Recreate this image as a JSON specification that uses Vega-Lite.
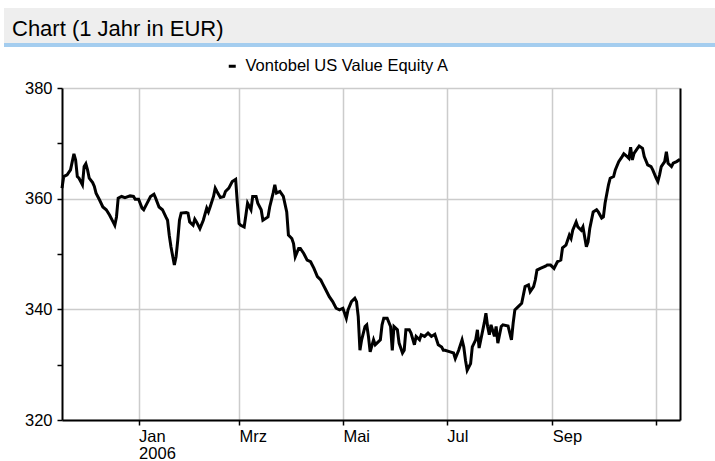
{
  "$schema": "https://vega.github.io/schema/vega-lite/v6.json",
  "padding": {"left": 4, "top": 8, "right": 0, "bottom": 0},
  "background": "white",
  "config": {"font": "Liberation Sans", "view": {"stroke": null}},
  "datasets": {
    "fund": [
      {"d":"2005-11-17","v":361.9},{"d":"2005-11-18","v":364.0},{"d":"2005-11-20","v":364.3},{"d":"2005-11-22","v":365.2},{"d":"2005-11-24","v":368.1},{"d":"2005-11-25","v":367.0},{"d":"2005-11-26","v":364.0},{"d":"2005-11-27","v":363.7},{"d":"2005-11-29","v":362.5},{"d":"2005-11-30","v":365.8},
      {"d":"2005-12-01","v":366.3},{"d":"2005-12-02","v":365.2},{"d":"2005-12-03","v":363.7},{"d":"2005-12-05","v":362.9},{"d":"2005-12-06","v":362.2},{"d":"2005-12-07","v":361.0},{"d":"2005-12-09","v":359.8},{"d":"2005-12-11","v":358.5},{"d":"2005-12-13","v":358.0},{"d":"2005-12-15","v":357.0},{"d":"2005-12-17","v":355.8},{"d":"2005-12-18","v":355.2},{"d":"2005-12-19","v":356.7},{"d":"2005-12-20","v":360.1},{"d":"2005-12-22","v":360.4},{"d":"2005-12-24","v":360.2},{"d":"2005-12-27","v":360.5},{"d":"2005-12-29","v":360.4},{"d":"2005-12-30","v":359.9},
      {"d":"2006-01-01","v":359.9},{"d":"2006-01-03","v":358.3},{"d":"2006-01-04","v":358.0},{"d":"2006-01-06","v":359.2},{"d":"2006-01-08","v":360.4},{"d":"2006-01-10","v":360.8},{"d":"2006-01-11","v":360.1},{"d":"2006-01-13","v":358.5},{"d":"2006-01-15","v":358.0},{"d":"2006-01-17","v":356.7},{"d":"2006-01-18","v":356.1},{"d":"2006-01-19","v":353.4},{"d":"2006-01-20","v":351.3},{"d":"2006-01-22","v":348.0},{"d":"2006-01-23","v":349.5},{"d":"2006-01-24","v":352.5},{"d":"2006-01-25","v":356.1},{"d":"2006-01-26","v":357.4},{"d":"2006-01-29","v":357.5},{"d":"2006-01-30","v":357.4},{"d":"2006-01-31","v":355.8},
      {"d":"2006-02-02","v":355.2},{"d":"2006-02-03","v":356.3},{"d":"2006-02-04","v":355.8},{"d":"2006-02-06","v":354.6},{"d":"2006-02-08","v":356.1},{"d":"2006-02-10","v":358.3},{"d":"2006-02-11","v":357.6},{"d":"2006-02-12","v":358.5},{"d":"2006-02-14","v":360.4},{"d":"2006-02-15","v":361.9},{"d":"2006-02-16","v":361.3},{"d":"2006-02-18","v":360.2},{"d":"2006-02-20","v":360.4},{"d":"2006-02-21","v":361.3},{"d":"2006-02-23","v":361.9},{"d":"2006-02-25","v":363.1},{"d":"2006-02-27","v":363.5},{"d":"2006-02-28","v":359.2},
      {"d":"2006-03-01","v":355.5},{"d":"2006-03-02","v":355.2},{"d":"2006-03-04","v":354.9},{"d":"2006-03-05","v":357.0},{"d":"2006-03-06","v":359.2},{"d":"2006-03-08","v":358.0},{"d":"2006-03-09","v":360.4},{"d":"2006-03-11","v":360.4},{"d":"2006-03-12","v":359.2},{"d":"2006-03-14","v":358.0},{"d":"2006-03-15","v":356.1},{"d":"2006-03-18","v":356.7},{"d":"2006-03-19","v":358.5},{"d":"2006-03-21","v":361.0},{"d":"2006-03-22","v":362.5},{"d":"2006-03-23","v":361.0},{"d":"2006-03-25","v":361.3},{"d":"2006-03-27","v":360.4},{"d":"2006-03-29","v":357.6},{"d":"2006-03-30","v":353.4},
      {"d":"2006-04-01","v":352.8},{"d":"2006-04-02","v":351.9},{"d":"2006-04-03","v":349.5},{"d":"2006-04-05","v":351.0},{"d":"2006-04-06","v":351.0},{"d":"2006-04-08","v":350.1},{"d":"2006-04-10","v":348.9},{"d":"2006-04-12","v":348.6},{"d":"2006-04-14","v":347.4},{"d":"2006-04-16","v":345.9},{"d":"2006-04-18","v":345.3},{"d":"2006-04-19","v":344.7},{"d":"2006-04-21","v":343.5},{"d":"2006-04-23","v":342.3},{"d":"2006-04-25","v":341.4},{"d":"2006-04-27","v":340.2},{"d":"2006-04-29","v":339.9},
      {"d":"2006-05-01","v":340.2},{"d":"2006-05-03","v":338.4},{"d":"2006-05-04","v":339.9},{"d":"2006-05-06","v":341.4},{"d":"2006-05-08","v":342.0},{"d":"2006-05-09","v":341.4},{"d":"2006-05-10","v":338.7},{"d":"2006-05-11","v":332.6},{"d":"2006-05-12","v":334.5},{"d":"2006-05-14","v":336.9},{"d":"2006-05-15","v":337.2},{"d":"2006-05-16","v":335.1},{"d":"2006-05-17","v":332.3},{"d":"2006-05-19","v":334.5},{"d":"2006-05-20","v":333.6},{"d":"2006-05-21","v":333.9},{"d":"2006-05-23","v":334.5},{"d":"2006-05-24","v":337.2},{"d":"2006-05-25","v":338.4},{"d":"2006-05-27","v":338.4},{"d":"2006-05-29","v":336.9},{"d":"2006-05-30","v":332.6},{"d":"2006-05-31","v":336.9},
      {"d":"2006-06-02","v":336.3},{"d":"2006-06-03","v":333.9},{"d":"2006-06-05","v":332.1},{"d":"2006-06-06","v":332.6},{"d":"2006-06-07","v":336.3},{"d":"2006-06-09","v":336.3},{"d":"2006-06-10","v":335.7},{"d":"2006-06-12","v":333.6},{"d":"2006-06-13","v":335.1},{"d":"2006-06-15","v":334.5},{"d":"2006-06-16","v":335.4},{"d":"2006-06-18","v":335.1},{"d":"2006-06-20","v":335.7},{"d":"2006-06-22","v":335.1},{"d":"2006-06-24","v":335.5},{"d":"2006-06-26","v":333.6},{"d":"2006-06-28","v":333.2},{"d":"2006-06-29","v":332.6},{"d":"2006-06-30","v":332.6},
      {"d":"2006-07-03","v":332.3},{"d":"2006-07-05","v":332.1},{"d":"2006-07-06","v":331.1},{"d":"2006-07-08","v":332.6},{"d":"2006-07-10","v":334.5},{"d":"2006-07-11","v":333.2},{"d":"2006-07-12","v":330.8},{"d":"2006-07-13","v":329.0},{"d":"2006-07-15","v":330.2},{"d":"2006-07-16","v":333.2},{"d":"2006-07-18","v":334.5},{"d":"2006-07-19","v":336.3},{"d":"2006-07-20","v":333.0},{"d":"2006-07-21","v":334.5},{"d":"2006-07-23","v":337.5},{"d":"2006-07-24","v":339.3},{"d":"2006-07-25","v":336.9},{"d":"2006-07-26","v":335.4},{"d":"2006-07-27","v":337.2},{"d":"2006-07-29","v":335.1},{"d":"2006-07-30","v":336.9},{"d":"2006-07-31","v":333.9},
      {"d":"2006-08-02","v":336.9},{"d":"2006-08-03","v":337.2},{"d":"2006-08-06","v":337.0},{"d":"2006-08-08","v":334.5},{"d":"2006-08-09","v":337.5},{"d":"2006-08-10","v":339.9},{"d":"2006-08-12","v":340.5},{"d":"2006-08-14","v":341.1},{"d":"2006-08-15","v":342.6},{"d":"2006-08-16","v":344.1},{"d":"2006-08-18","v":344.4},{"d":"2006-08-19","v":343.2},{"d":"2006-08-21","v":344.1},{"d":"2006-08-22","v":345.3},{"d":"2006-08-23","v":347.1},{"d":"2006-08-25","v":347.4},{"d":"2006-08-28","v":347.8},{"d":"2006-08-29","v":348.0},{"d":"2006-08-31","v":348.0},
      {"d":"2006-09-02","v":347.4},{"d":"2006-09-04","v":348.6},{"d":"2006-09-06","v":348.9},{"d":"2006-09-07","v":351.1},{"d":"2006-09-09","v":351.6},{"d":"2006-09-11","v":353.4},{"d":"2006-09-12","v":352.8},{"d":"2006-09-13","v":354.3},{"d":"2006-09-15","v":355.8},{"d":"2006-09-16","v":354.9},{"d":"2006-09-18","v":354.3},{"d":"2006-09-19","v":354.9},{"d":"2006-09-21","v":351.3},{"d":"2006-09-22","v":352.2},{"d":"2006-09-23","v":354.6},{"d":"2006-09-25","v":357.6},{"d":"2006-09-27","v":358.0},{"d":"2006-09-28","v":357.6},{"d":"2006-09-30","v":356.5},
      {"d":"2006-10-01","v":356.7},{"d":"2006-10-02","v":359.2},{"d":"2006-10-04","v":362.5},{"d":"2006-10-05","v":363.7},{"d":"2006-10-07","v":364.0},{"d":"2006-10-08","v":365.2},{"d":"2006-10-10","v":366.7},{"d":"2006-10-12","v":367.6},{"d":"2006-10-13","v":368.1},{"d":"2006-10-15","v":367.6},{"d":"2006-10-16","v":367.3},{"d":"2006-10-17","v":369.3},{"d":"2006-10-18","v":367.0},{"d":"2006-10-19","v":368.2},{"d":"2006-10-21","v":369.1},{"d":"2006-10-22","v":369.5},{"d":"2006-10-24","v":369.1},{"d":"2006-10-25","v":367.6},{"d":"2006-10-27","v":366.1},{"d":"2006-10-29","v":365.8},{"d":"2006-10-30","v":365.2},
      {"d":"2006-11-01","v":363.7},{"d":"2006-11-02","v":363.1},{"d":"2006-11-03","v":364.3},{"d":"2006-11-04","v":365.8},{"d":"2006-11-06","v":366.7},{"d":"2006-11-07","v":368.5},{"d":"2006-11-08","v":366.4},{"d":"2006-11-10","v":365.8},{"d":"2006-11-11","v":366.4},{"d":"2006-11-13","v":366.7},{"d":"2006-11-15","v":367.1}
    ]
  },
  "columns": 1,
  "align": "none",
  "spacing": 0,
  "resolve": {"legend": {"color": "independent"}},
  "concat": [
    {
      "width": 711,
      "height": 35,
      "data": {"values": [{"part": "header"}]},
      "mark": {"type": "rect", "color": "#eeeeee"},
      "title": {"text": "Chart (1 Jahr in EUR)", "orient": "top", "anchor": "start", "frame": "group", "offset": -50, "dx": 8, "baseline": "alphabetic", "fontSize": 22, "fontWeight": "normal", "color": "#000000", "font": "Liberation Sans"}
    },
    {
      "width": 711,
      "height": 4,
      "data": {"values": [{"part": "rule"}]},
      "mark": {"type": "rect", "color": "#a4cdef"}
    },
    {
      "spacing": 0,
      "resolve": {"legend": {"color": "independent"}},
      "hconcat": [
        {
          "width": 1,
          "height": 1,
          "data": {"values": [{"part": "spacer"}]},
          "mark": {"type": "rect", "opacity": 0}
        },
        {
          "width": 618,
          "height": 332,
          "data": {"name": "fund", "format": {"parse": {"d": "date:'%Y-%m-%d'"}}},
          "encoding": {
            "x": {
              "field": "d", "type": "temporal",
              "scale": {"domain": [{"year": 2005, "month": 11, "date": 17}, {"year": 2006, "month": 11, "date": 15}]},
              "axis": {
                "values": [{"year": 2006, "month": 1, "date": 1}, {"year": 2006, "month": 3, "date": 1}, {"year": 2006, "month": 5, "date": 1}, {"year": 2006, "month": 7, "date": 1}, {"year": 2006, "month": 9, "date": 1}, {"year": 2006, "month": 11, "date": 1}],
                "title": null, "grid": true, "gridColor": "#cccccc", "gridWidth": 1.5,
                "domainColor": "#000000", "domainWidth": 2, "tickColor": "#000000", "tickWidth": 1.5, "tickSize": 5,
                "labelAlign": "left", "labelBaseline": "top", "labelPadding": 3, "labelFontSize": 16.5, "labelColor": "#000000",
                "labelFlush": false, "labelOverlap": false, "labelLineHeight": 17,
                "labelExpr": "month(datum.value) == 10 ? '' : (month(datum.value) == 0 ? ['Jan', toString(year(datum.value))] : ['Jan','Feb','Mrz','Apr','Mai','Jun','Jul','Aug','Sep','Okt','Nov','Dez'][month(datum.value)])"
              }
            },
            "y": {
              "field": "v", "type": "quantitative",
              "scale": {"domain": [320, 380], "nice": false, "zero": false},
              "axis": {
                "values": [320, 330, 340, 350, 360, 370, 380],
                "title": " ", "titleX": -57, "titleY": -41, "titleAngle": 0, "titleAlign": "left", "titleBaseline": "top", "titleOpacity": 0,
                "grid": true, "gridColor": "#cccccc", "gridWidth": 1.5,
                "gridOpacity": {"condition": {"test": "datum.value % 20 == 0", "value": 1}, "value": 0},
                "domainColor": "#000000", "domainWidth": 2, "tickColor": "#000000", "tickWidth": 1.5, "tickSize": 5,
                "labelPadding": 5, "labelFontSize": 16.5, "labelColor": "#000000",
                "labelExpr": "datum.value % 20 == 0 ? datum.label : ''"
              }
            }
          },
          "layer": [
            {
              "mark": {"type": "line", "strokeWidth": 3, "strokeJoin": "miter"},
              "encoding": {
                "color": {
                  "datum": "Vontobel US Value Equity A",
                  "scale": {"range": ["#000000"]},
                  "legend": {"title": null, "orient": "none", "legendX": 162, "legendY": -30, "symbolType": "stroke", "symbolSize": 49, "symbolStrokeWidth": 3, "symbolStrokeColor": "#000000", "labelFontSize": 16.5, "labelColor": "#000000", "labelOffset": 5, "labelLimit": 0}
                }
              }
            },
            {
              "mark": {"type": "line", "opacity": 0},
              "encoding": {
                "y": {
                  "field": "v", "type": "quantitative",
                  "axis": {"orient": "right", "title": null, "labels": false, "ticks": false, "grid": false, "domainColor": "#000000", "domainWidth": 2}
                }
              }
            }
          ],
          "resolve": {"axis": {"y": "independent"}}
        }
      ]
    }
  ]
}
